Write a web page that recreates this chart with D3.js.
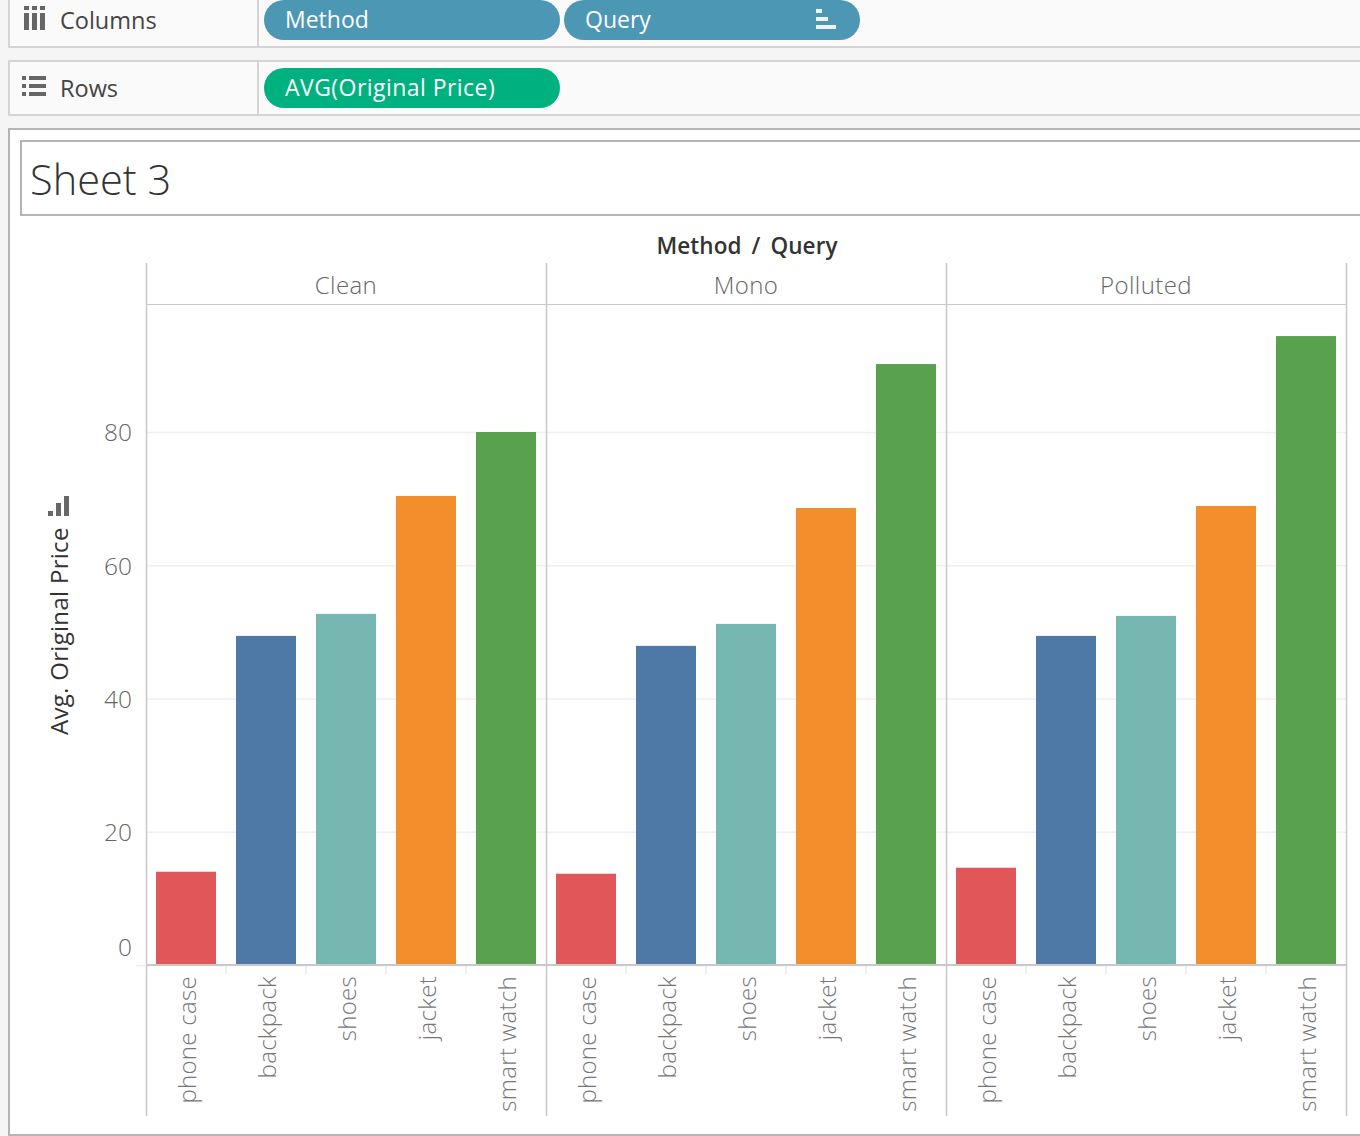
<!DOCTYPE html>
<html>
<head>
<meta charset="utf-8">
<script src="https://cdn.jsdelivr.net/npm/d3@7"></script>
<style>
html, body { margin:0; padding:0; background:#f5f5f5; overflow:hidden; }
text { font-family:"Open Sans", sans-serif; }
</style>
</head>
<body>
<div id="chart-area"></div>
<script>
// chart data
var methods = ["Clean", "Mono", "Polluted"];
var queries = ["phone case", "backpack", "shoes", "jacket", "smart watch"];
var cleanValues = [14.0, 49.4, 52.7, 70.4, 80.0];
var monoValues = [13.7, 47.9, 51.2, 68.6, 90.2];
var pollutedValues = [14.6, 49.4, 52.4, 68.9, 94.4];
var yTicks = [0, 20, 40, 60, 80];
var barColors = ["#e15759", "#4e79a7", "#76b7b2", "#f28e2b", "#59a14f"];

var seriesByMethod = { Clean:cleanValues, Mono:monoValues, Polluted:pollutedValues };

var width = 1360, height = 1136;
var lineGrey = "#c8c8c8", shelfGrey = "#d4d4d4", frameGrey = "#b4b4b4";

var canvas = d3.select("#chart-area")
    .append("svg")
    .attr("width", width)
    .attr("height", height)
    .style("display", "block");

// shelves at the top
function shelf(y, h, label, baseline) {
    canvas.append("rect")
        .attr("x", 9).attr("y", y).attr("width", width).attr("height", h)
        .attr("fill", "#fafafa").attr("stroke", shelfGrey).attr("stroke-width", 2);
    canvas.append("line")
        .attr("x1", 258).attr("x2", 258).attr("y1", y).attr("y2", y + h)
        .attr("stroke", shelfGrey).attr("stroke-width", 2);
    canvas.append("text")
        .attr("x", 60).attr("y", baseline)
        .attr("font-size", "23.5px").attr("fill", "#444")
        .text(label);
}
shelf(-10, 57, "Columns", 29);
shelf(61, 54, "Rows", 97);

function pill(x, y, w, color, label, spacing) {
    canvas.append("rect")
        .attr("x", x).attr("y", y).attr("width", w).attr("height", 40)
        .attr("rx", 20).attr("fill", color);
    canvas.append("text")
        .attr("x", x + 21).attr("y", y + 28)
        .attr("font-size", "23px").attr("fill", "#fff")
        .attr("letter-spacing", spacing)
        .text(label);
}
pill(264, 0, 296, "#4b97b4", "Method", 0);
pill(564, 0, 296, "#4b97b4", "Query", 0);
pill(264, 68, 296, "#00b180", "AVG(Original Price)", 0.45);

// small shelf icons
var iconFill = "#666";
[24, 32, 40].forEach(function(bx) {
    canvas.append("rect").attr("x", bx).attr("y", 6).attr("width", 5).attr("height", 4).attr("fill", iconFill);
    canvas.append("rect").attr("x", bx).attr("y", 13).attr("width", 5).attr("height", 17).attr("fill", iconFill);
});
[76, 84, 92].forEach(function(y) {
    canvas.append("rect").attr("x", 22).attr("y", y).attr("width", 4).attr("height", 4).attr("fill", iconFill);
    canvas.append("rect").attr("x", 29).attr("y", y).attr("width", 17).attr("height", 4).attr("fill", iconFill);
});
[[816, 9, 6], [816, 17, 12], [816, 25, 20]].forEach(function(r) {
    canvas.append("rect").attr("x", r[0]).attr("y", r[1]).attr("width", r[2]).attr("height", 4)
        .attr("fill", "#eef4f7");
});

// sheet frame and title
canvas.append("rect")
    .attr("x", 9).attr("y", 129).attr("width", width).attr("height", 1006)
    .attr("fill", "#fff").attr("stroke", frameGrey).attr("stroke-width", 2);
canvas.append("rect")
    .attr("x", 21).attr("y", 141).attr("width", width).attr("height", 74)
    .attr("fill", "#fff").attr("stroke", frameGrey).attr("stroke-width", 2);
canvas.append("text")
    .attr("x", 30).attr("y", 195)
    .attr("font-size", "41.5px").attr("font-weight", 300).attr("fill", "#333")
    .text("Sheet 3");

// scales
var panelWidth = 400, plotLeft = 146, plotTop = 304, plotBottom = 965;
var xPanel = d3.scaleBand().domain(methods).range([plotLeft, plotLeft + panelWidth * 3]);
var xScale = d3.scaleBand()
    .domain(queries)
    .range([0, panelWidth])
    .paddingInner(0.25)
    .paddingOuter(0.125);
var yScale = d3.scaleLinear()
    .domain([0, 80])
    .range([plotBottom, 432]);

// grid lines and y axis
var g = canvas.append("g");
var left_axis = d3.axisLeft(yScale)
    .tickValues(yTicks)
    .tickSize(0)
    .tickPadding(14);
var yAxis = g.append("g")
    .attr("class", "y axis")
    .attr("transform", "translate(" + plotLeft + ",0)")
    .call(left_axis);
yAxis.select(".domain").remove();
yAxis.selectAll("text")
    .attr("font-size", "24.5px")
    .attr("font-family", "'Open Sans', sans-serif")
    .attr("font-weight", 300)
    .attr("fill", "#666")
    .attr("dy", function(d) { return d === 0 ? "-0.37em" : "0.36em"; });

g.selectAll(".grid")
    .data(yTicks)
    .enter()
    .append("line")
    .attr("class", "grid")
    .attr("x1", function(d) { return d === 0 ? plotLeft - 10 : plotLeft; })
    .attr("x2", plotLeft + panelWidth * 3)
    .attr("y1", function(d) { return yScale(d) + 0.5; })
    .attr("y2", function(d) { return yScale(d) + 0.5; })
    .attr("stroke", "#efefef")
    .attr("stroke-width", 1.5);

// header titles
canvas.append("text")
    .attr("x", 747).attr("y", 254)
    .attr("text-anchor", "middle")
    .attr("font-size", "22.5px").attr("font-weight", 600).attr("fill", "#333")
    .attr("letter-spacing", 0.1).attr("word-spacing", 4)
    .text("Method / Query");

canvas.append("text")
    .attr("transform", "translate(68,735) rotate(-90)")
    .attr("font-size", "24px").attr("font-weight", 500).attr("fill", "#333")
    .attr("letter-spacing", 0.3)
    .text("Avg. Original Price");

// little sort icon next to the y title
[[48, 511, 5], [56, 503, 13], [64, 496, 20]].forEach(function(r) {
    canvas.append("rect").attr("x", r[0]).attr("y", r[1]).attr("width", 5).attr("height", r[2])
        .attr("fill", iconFill);
});

// one panel per method
methods.forEach(function(method) {
    var panel = g.append("g")
        .attr("class", "panel")
        .attr("transform", "translate(" + xPanel(method) + ",0)");

    panel.append("text")
        .attr("x", panelWidth / 2).attr("y", 294)
        .attr("text-anchor", "middle")
        .attr("font-size", "24px").attr("font-weight", 300).attr("fill", "#666")
        .attr("letter-spacing", 0.4)
        .text(method);

    panel.selectAll(".bar")
        .data(seriesByMethod[method])
        .enter()
        .append("rect")
        .attr("class", "bar")
        .attr("x", function(d, i) { return xScale(queries[i]); })
        .attr("y", function(d) { return yScale(d); })
        .attr("width", xScale.bandwidth())
        .attr("height", function(d) { return plotBottom - 1 - yScale(d); })
        .attr("fill", function(d, i) { return barColors[i]; });

    var bottom_axis = d3.axisBottom(xScale).tickSize(0);
    var xAxis = panel.append("g")
        .attr("class", "x axis")
        .attr("transform", "translate(0,966)")
        .call(bottom_axis);
    xAxis.select(".domain").remove();
    xAxis.selectAll("text")
        .attr("transform", "rotate(-90)")
        .attr("text-anchor", "end")
        .attr("x", -10)
        .attr("y", 2)
        .attr("dy", "0.32em")
        .attr("dx", 0)
        .attr("font-size", "24px")
        .attr("letter-spacing", 0.3)
        .attr("font-family", "'Open Sans', sans-serif")
        .attr("font-weight", 300)
        .attr("fill", "#777");

    // short separators between the category labels
    panel.selectAll(".sep")
        .data(queries.slice(1))
        .enter()
        .append("line")
        .attr("class", "sep")
        .attr("x1", function(d) { return xScale(d) - 10; })
        .attr("x2", function(d) { return xScale(d) - 10; })
        .attr("y1", 966).attr("y2", 974)
        .attr("stroke", "#efefef").attr("stroke-width", 2);
});

// panel rules
var panelEdges = [0, 1, 2, 3].map(function(i) { return plotLeft + i * panelWidth; });
g.selectAll(".edge")
    .data(panelEdges)
    .enter()
    .append("line")
    .attr("class", "edge")
    .attr("x1", function(d) { return d + 0.5; })
    .attr("x2", function(d) { return d + 0.5; })
    .attr("y1", 263).attr("y2", 1116)
    .attr("stroke", lineGrey).attr("stroke-width", 1.5);

g.append("line")
    .attr("x1", plotLeft).attr("x2", plotLeft + panelWidth * 3)
    .attr("y1", plotTop + 0.5).attr("y2", plotTop + 0.5)
    .attr("stroke", lineGrey).attr("stroke-width", 1);
g.append("line")
    .attr("x1", plotLeft).attr("x2", plotLeft + panelWidth * 3 + 1)
    .attr("y1", plotBottom).attr("y2", plotBottom)
    .attr("stroke", lineGrey).attr("stroke-width", 2);
</script>
</body>
</html>
